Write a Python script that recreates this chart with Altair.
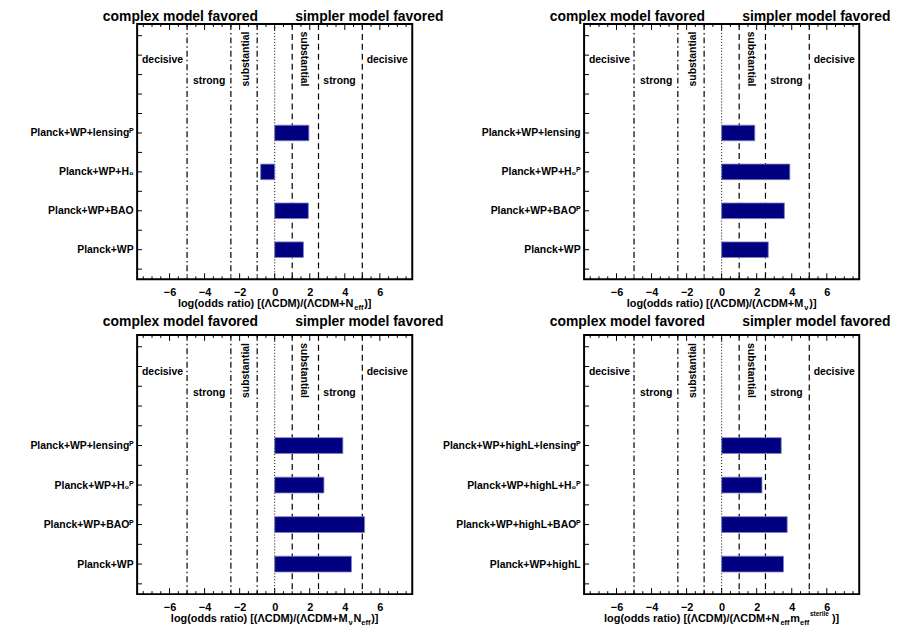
import altair as alt
import pandas as pd

# ---------------- data ----------------
positions = [1, 2, 3, 4]

labels_neff = ["Planck+WP", "Planck+WP+BAO", "Planck+WP+H₀", "Planck+WP+lensingᴾ"]
odds_neff = [1.64, 1.92, -0.80, 1.95]

labels_mnu = ["Planck+WP", "Planck+WP+BAOᴾ", "Planck+WP+H₀ᴾ", "Planck+WP+lensing"]
odds_mnu = [2.66, 3.58, 3.89, 1.89]

labels_mnu_neff = ["Planck+WP", "Planck+WP+BAOᴾ", "Planck+WP+H₀ᴾ", "Planck+WP+lensingᴾ"]
odds_mnu_neff = [4.38, 5.13, 2.81, 3.89]

labels_sterile = ["Planck+WP+highL", "Planck+WP+highL+BAOᴾ",
                  "Planck+WP+highL+H₀ᴾ", "Planck+WP+highL+lensingᴾ"]
odds_sterile = [3.53, 3.74, 2.30, 3.40]

x_tick_labels = [-6, -4, -2, 0, 2, 4, 6]
x_minor_ticks = [-7.5, -7, -6.5, -5.5, -5, -4.5, -3.5, -3, -2.5, -1.5, -1, -0.5,
                 0.5, 1, 1.5, 2.5, 3, 3.5, 4.5, 5, 5.5, 6.5, 7, 7.5]
x_major_ticks = [-6, -4, -2, 0, 2, 4, 6]
y_ticks = [0.5, 1, 1.5, 2, 2.5, 3, 3.5, 4, 4.5, 5, 5.5, 6, 6.5]

dashdot_lines = [-5, -2.5, -1]
dotted_lines = [0]
dashed_lines = [1, 2.5, 5]

region_text = ["decisive", "strong", "substantial", "substantial", "strong", "decisive"]
region_x = [-6.4, -3.74, -1.65, 1.65, 3.7, 6.42]
region_y = [5.87, 5.34, 5.9, 5.9, 5.34, 5.87]
region_angle = [0, 0, 270, 90, 0, 0]

favored_text = ["complex model favored", "simpler model favored"]
favored_x = [-5.38, 5.40]

# axis titles: (text, kind) kind: n = normal, s = subscript, p = superscript
title_neff = [("log(odds ratio) [(ΛCDM)/(ΛCDM+N", "n"), ("eff", "s"), (")]", "n")]
title_mnu = [("log(odds ratio) [(ΛCDM)/(ΛCDM+M", "n"), ("ν", "s"), (")]", "n")]
title_mnu_neff = [("log(odds ratio) [(ΛCDM)/(ΛCDM+M", "n"), ("ν", "s"), ("N", "n"),
                  ("eff", "s"), (")]", "n")]
title_sterile = [("log(odds ratio) [(ΛCDM)/(ΛCDM+N", "n"), ("eff", "s"), ("m", "n"),
                 ("eff", "s"), ("sterile", "p"), (")]", "n")]

# ---------------- style ----------------
FONT = "Liberation Sans"
W = 277
X_DOMAIN = [-7.85, 7.85]
Y_DOMAIN = [0.24, 6.8]
BAR_FILL = "#000080"
BAR_EDGE = "#8080c0"

# Helvetica-Bold widths (per 1000 em) for title layout
_w = {' ': 278, '(': 333, ')': 333, '[': 333, ']': 333, '/': 278, '+': 584,
      'a': 556, 'b': 611, 'c': 556, 'd': 611, 'e': 556, 'f': 333, 'g': 611, 'h': 611,
      'i': 278, 'l': 278, 'm': 889, 'n': 611, 'o': 611, 'r': 389, 's': 556, 't': 333,
      'v': 556, 'C': 722, 'D': 722, 'M': 833, 'N': 722, 'Λ': 700, 'ν': 556}
SIZES = {"n": 11, "s": 7.5, "p": 6.5}
DYS = {"n": 0, "s": 3, "p": -5.5}
GAP = {"n": 0, "s": 0.8, "p": 3}


def tw(s, size):
    return sum(_w.get(c, 600) for c in s) / 1000.0 * size


def panel(labels, values, title_pieces, H, fav_y, title_y, anchor=False):
    xs = alt.Scale(domain=X_DOMAIN, nice=False, zero=False)
    ys = alt.Scale(domain=Y_DOMAIN, nice=False, zero=False)
    expr = " : ".join(f"datum.value == {p} ? '{l}'" for p, l in zip(positions, labels)) + " : ''"
    xax = alt.Axis(values=x_tick_labels, ticks=False, tickSize=0, domain=False, grid=False,
                   labelPadding=7, labelFont=FONT, labelFontSize=11, labelFontWeight="bold",
                   labelColor="black", title=None, format="d")
    yax = alt.Axis(values=positions, labelExpr=expr, ticks=False, tickSize=0, domain=False,
                   grid=False, labelPadding=4, labelFont=FONT, labelFontSize=10.5,
                   labelFontWeight="bold", labelColor="black", title=None, labelLimit=300)

    df = pd.DataFrame({"label": labels, "pos": positions, "value": values})
    bars = alt.Chart(df).transform_calculate(
        y0="datum.pos - 0.2", y1="datum.pos + 0.2", x0="0"
    ).mark_rect(fill=BAR_FILL, stroke=BAR_EDGE, strokeWidth=0.8).encode(
        x=alt.X("x0:Q", scale=xs, axis=xax),
        x2="value:Q",
        y=alt.Y("y0:Q", scale=ys, axis=yax),
        y2="y1:Q",
    )

    def vlines(vals, dash, width=1.2):
        return alt.Chart(pd.DataFrame({"x": vals})).mark_rule(
            color="black", strokeDash=dash, strokeWidth=width
        ).encode(x=alt.X("x:Q", scale=xs, axis=xax))

    dd = vlines(dashdot_lines, [6, 3, 1.5, 3])
    dt = vlines(dotted_lines, [1, 2], 1)
    da = vlines(dashed_lines, [6, 4])

    def xticks(vals, length):
        d = pd.DataFrame({"t": vals})
        b = alt.Chart(d).mark_rule(color="black", strokeWidth=1).encode(
            x=alt.X("t:Q", scale=xs, axis=xax), y=alt.value(H), y2=alt.value(H - length))
        t = alt.Chart(d).mark_rule(color="black", strokeWidth=1).encode(
            x=alt.X("t:Q", scale=xs, axis=xax), y=alt.value(0), y2=alt.value(length))
        return [b, t]

    yt = alt.Chart(pd.DataFrame({"t": y_ticks})).mark_rule(color="black", strokeWidth=1).encode(
        y=alt.Y("t:Q", scale=ys, axis=yax), x=alt.value(0), x2=alt.value(5))

    reg = alt.Chart(pd.DataFrame({"x": region_x, "y": region_y, "text": region_text,
                                  "angle": region_angle})).mark_text(
        font=FONT, fontSize=10.5, fontWeight="bold", color="black", baseline="middle"
    ).encode(x=alt.X("x:Q", scale=xs, axis=xax), y=alt.Y("y:Q", scale=ys, axis=yax),
             text="text:N", angle=alt.Angle("angle:Q", scale=None))

    fav = alt.Chart(pd.DataFrame({"x": favored_x, "text": favored_text})).mark_text(
        font=FONT, fontSize=14, fontWeight="bold", color="black", baseline="alphabetic"
    ).encode(x=alt.X("x:Q", scale=xs, axis=xax), y=alt.value(fav_y), text="text:N")

    # axis title built from pieces (sub/superscripts)
    total = sum(tw(t, SIZES[k]) + GAP[k] for t, k in title_pieces)
    x0 = W / 2 - total / 2
    pieces = []
    for t, k in title_pieces:
        pieces.append(alt.Chart(alt.Data(values=[{"a": 1}])).mark_text(
            text=t, font=FONT, fontSize=SIZES[k], fontWeight="bold", color="black",
            align="left", baseline="alphabetic"
        ).encode(x=alt.value(x0), y=alt.value(H + title_y + DYS[k])))
        x0 += tw(t, SIZES[k]) + GAP[k]

    frame = alt.Chart(alt.Data(values=[{"a": 1}])).mark_rect(
        fillOpacity=0, stroke="black", strokeWidth=2
    ).encode(x=alt.value(0), x2=alt.value(W), y=alt.value(0), y2=alt.value(H))

    layers = [dd, dt, da, bars, reg, fav, yt] + xticks(x_minor_ticks, 3) + \
        xticks(x_major_ticks, 6) + pieces + [frame]
    if anchor:
        layers.append(alt.Chart(alt.Data(values=[{"a": 1}])).mark_rule(
            opacity=0, color="white").encode(
            x=alt.value(-130), y=alt.value(0), y2=alt.value(2)))
    return alt.layer(*layers).properties(width=W, height=H)


p1 = panel(labels_neff, odds_neff, title_neff, 257, -3, 28, anchor=True)
p2 = panel(labels_mnu, odds_mnu, title_mnu, 257, -3, 28)
p3 = panel(labels_mnu_neff, odds_mnu_neff, title_mnu_neff, 261, -9, 28)
p4 = panel(labels_sterile, odds_sterile, title_sterile, 261, -9, 28)

chart = alt.concat(p1, p2, p3, p4, columns=2, spacing={"row": 56, "column": 173},
                   bounds="flush").properties(
    padding={"left": 0, "top": 0, "right": 0, "bottom": 0}
).configure_view(stroke=None)

chart.save("out.html", embed_options={"renderer": "svg", "actions": False})
